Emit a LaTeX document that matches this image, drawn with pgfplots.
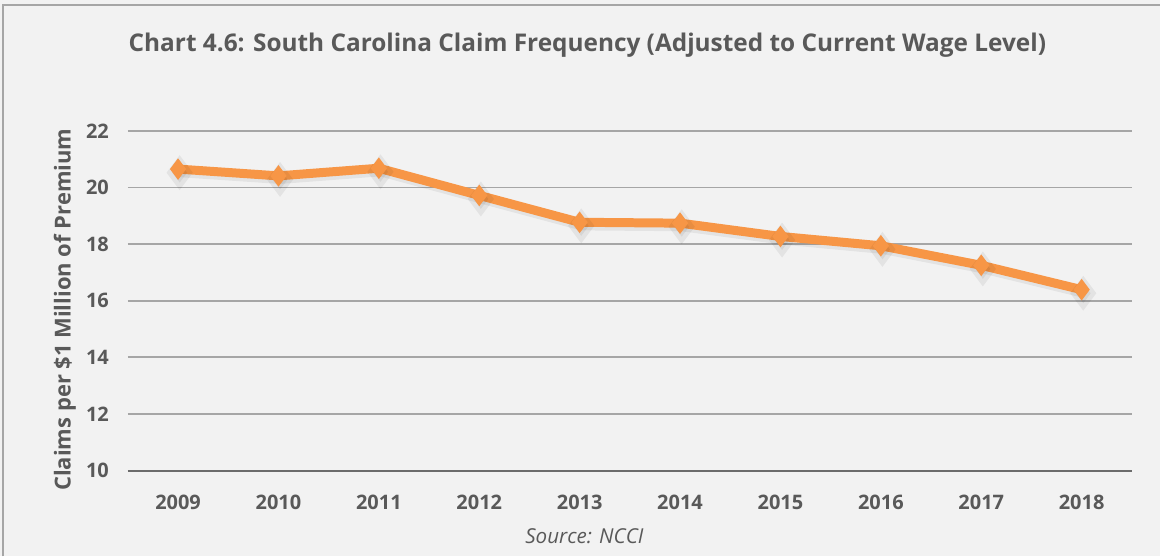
\documentclass[border=0pt]{standalone}
\usepackage{pgfplots}
\pgfplotsset{compat=1.18}
\usepackage{fontspec}
\setmainfont{Open Sans}
\definecolor{bgc}{HTML}{F2F2F2}
\definecolor{txt}{HTML}{595959}
\definecolor{grd}{HTML}{A6A6A6}
\definecolor{ln}{HTML}{F79646}

\begin{document}
\begin{tikzpicture}[x=0.5pt,y=0.5pt]
% frame (1 unit = 1 px of the reference)
\fill[bgc] (0,0) rectangle (1161,557);
\draw[gray!70, line width=1.2pt] (3,0) -- (3,552) -- (1161,552);

\begin{axis}[
    at={(64pt,43pt)}, anchor=south west,
    scale only axis,
    width=502.5pt, height=170pt,
    xmin=-0.5, xmax=9.5,
    ymin=10, ymax=22,
    ytick={10,12,...,22},
    xtick={0,...,9},
    xticklabels={2009,2010,2011,2012,2013,2014,2015,2016,2017,2018},
    axis lines*=left,
    y axis line style={draw=none},
    x axis line style={draw=gray!85!black, line width=1pt},
    major tick length=0pt,
    ymajorgrids,
    major grid style={draw=grd, line width=0.9pt},
    /pgf/number format/assume math mode=true,
    tick label style={font=\fontsize{10}{12}\selectfont\bfseries, text=txt},
    yticklabel style={xshift=-6pt},
    xticklabel style={yshift=-8.5pt},
    clip=false,
]
% soft shadow of the line
\addplot[black, opacity=0.06, line width=4.5pt, shift={(0.8pt,-1.8pt)},
    mark=diamond*, mark size=5pt] coordinates {
    (0,20.65) (1,20.41) (2,20.68) (3,19.72) (4,18.77)
    (5,18.74) (6,18.27) (7,17.94) (8,17.25) (9,16.39)
};
\addplot[ln, line width=4.5pt, mark=diamond*, mark size=5pt,
    mark options={solid, fill=ln, draw=ln, line width=0.5pt}] coordinates {
    (0,20.65) (1,20.41) (2,20.68) (3,19.72) (4,18.77)
    (5,18.74) (6,18.27) (7,17.94) (8,17.25) (9,16.39)
};
\end{axis}

\node[text=txt, font=\fontsize{12.2}{14}\selectfont\bfseries] at (588,512)
    {Chart 4.6: South Carolina Claim Frequency (Adjusted to Current Wage Level)};
\node[text=txt, rotate=90, font=\fontsize{11}{12}\selectfont\bfseries] at (65,247)
    {Claims per \$1 Million of Premium};
\node[text=txt, font=\fontsize{10.3}{12}\selectfont\itshape] at (585,20)
    {Source: NCCI};
\end{tikzpicture}
\end{document}
